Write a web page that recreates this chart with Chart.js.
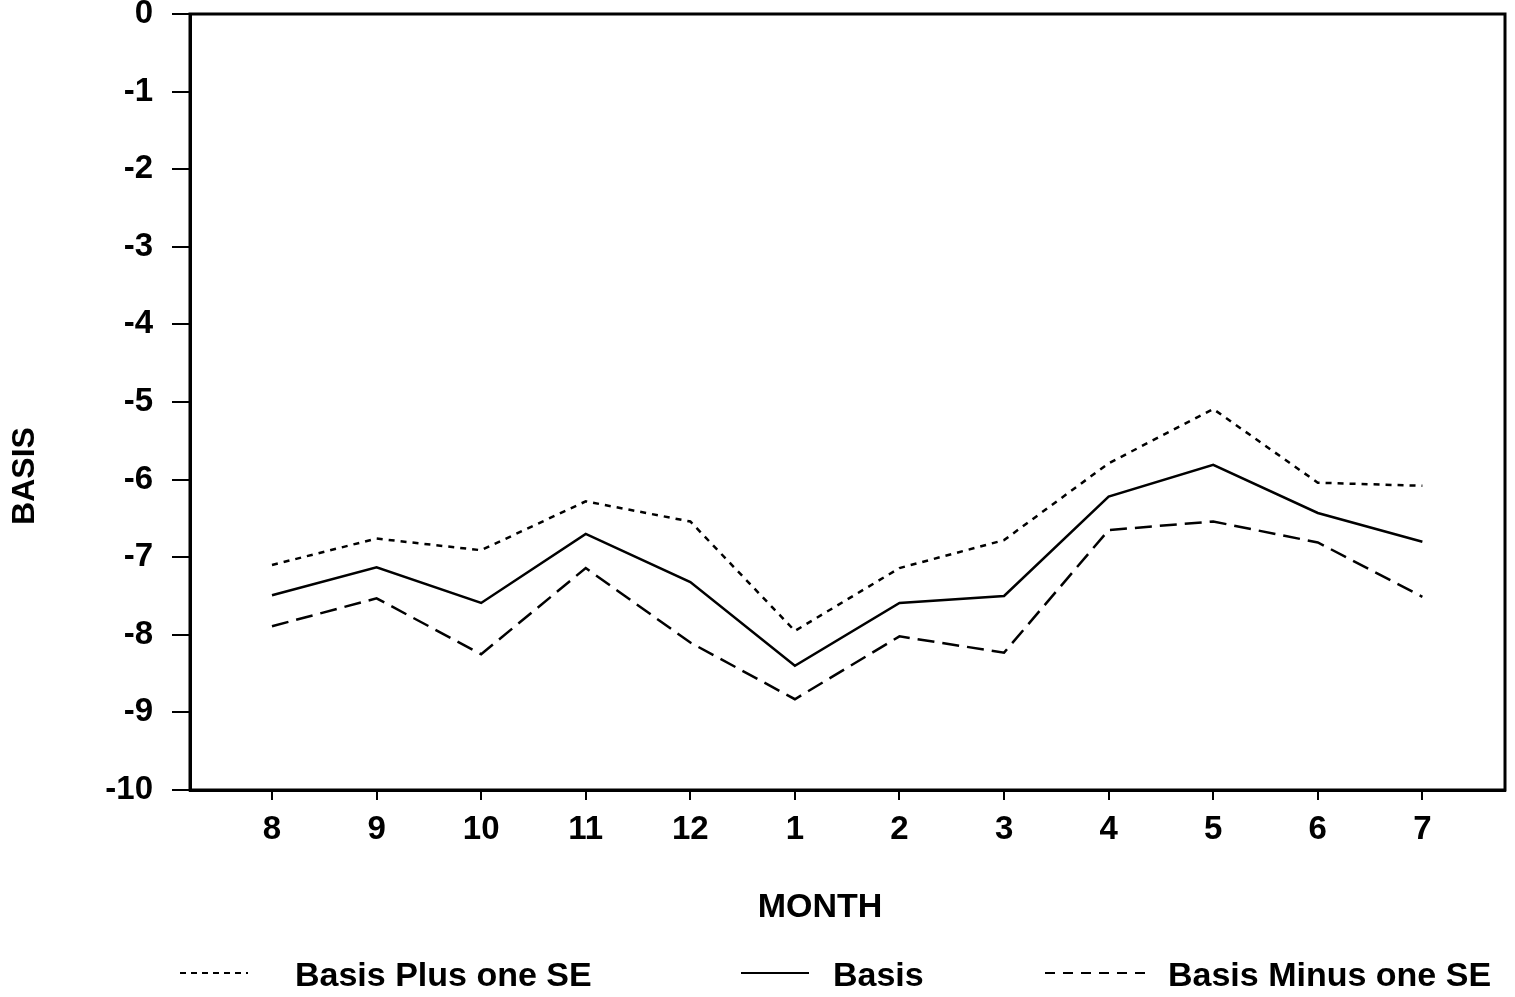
<!DOCTYPE html>
<html>
<head>
<meta charset="utf-8">
<script src="https://cdn.jsdelivr.net/npm/chart.js@4.4.0/dist/chart.umd.min.js"></script>
<style>
  body { margin: 0; background: #fff; }
  canvas { display: block; }
</style>
</head>
<body>
<canvas id="basisChart" width="1515" height="997"></canvas>
<script>
// month order on the x axis (Aug .. Jul)
const months = ['8', '9', '10', '11', '12', '1', '2', '3', '4', '5', '6', '7'];
const basisPlus = [-7.10, -6.76, -6.91, -6.28, -6.54, -7.95, -7.14, -6.78, -5.79, -5.09, -6.04, -6.08];
const basis = [-7.49, -7.13, -7.59, -6.70, -7.32, -8.40, -7.59, -7.50, -6.22, -5.81, -6.43, -6.80];
const basisMinus = [-7.89, -7.53, -8.25, -7.14, -8.10, -8.83, -8.02, -8.23, -6.65, -6.54, -6.81, -7.51];
const yTicks = [0, -1, -2, -3, -4, -5, -6, -7, -8, -9, -10];

const FONT = '"Liberation Sans", Arial, Helvetica, sans-serif';

function pts(arr) {
    return arr.map((v, i) => ({ x: i, y: v }));
}

// frame, axis titles and the legend row under the chart
const extras = {
    id: 'extras',
    afterDraw(chart) {
        const ctx = chart.ctx;
        const a = chart.chartArea;
        ctx.save();
        ctx.strokeStyle = '#000';
        ctx.lineWidth = 3;
        ctx.strokeRect(a.left, a.top, a.right - a.left, a.bottom - a.top);

        ctx.fillStyle = '#000';
        ctx.font = 'bold 34px ' + FONT;
        ctx.textAlign = 'center';
        ctx.textBaseline = 'middle';
        ctx.fillText('MONTH', 820, 908);

        ctx.save();
        ctx.translate(25, 476);
        ctx.rotate(-Math.PI / 2);
        ctx.font = 'bold 32px ' + FONT;
        ctx.fillText('BASIS', 0, 0);
        ctx.restore();

        // legend: [line start, line end, text start]
        const spots = [[180, 248, 295], [741, 809, 833], [1045, 1147, 1168]];
        ctx.font = 'bold 34px ' + FONT;
        ctx.textAlign = 'left';
        ctx.textBaseline = 'alphabetic';
        chart.data.datasets.forEach((ds, i) => {
            const s = spots[i];
            ctx.lineWidth = 2;
            ctx.setLineDash(ds.legendDash);
            ctx.beginPath();
            ctx.moveTo(s[0], 973);
            ctx.lineTo(s[1], 973);
            ctx.stroke();
            ctx.setLineDash([]);
            ctx.fillText(ds.label, s[2], 986);
        });
        ctx.restore();
    }
};

new Chart(document.getElementById('basisChart'), {
    type: 'line',
    data: {
        datasets: [
            { label: 'Basis Plus one SE', data: pts(basisPlus), borderDash: [6, 6], legendDash: [6, 5] },
            { label: 'Basis', data: pts(basis), borderDash: [], legendDash: [] },
            { label: 'Basis Minus one SE', data: pts(basisMinus), borderDash: [17, 8], legendDash: [10, 8] }
        ].map(d => Object.assign(d, {
            borderColor: '#000',
            borderWidth: 2.5,
            pointRadius: 0,
            tension: 0,
            fill: false
        }))
    },
    options: {
        responsive: false,
        animation: false,
        layout: { padding: { top: 14, right: 10, left: 0, bottom: 0 } },
        plugins: { legend: { display: false }, tooltip: { enabled: false } },
        scales: {
            x: {
                type: 'linear',
                min: -0.784,
                max: 11.79,
                afterFit: s => { s.height = 207; s.paddingLeft = 0; s.paddingRight = 0; },
                ticks: {
                    stepSize: 1,
                    includeBounds: false,
                    autoSkip: false,
                    maxRotation: 0,
                    padding: 10,
                    color: '#000',
                    font: { family: FONT, size: 33, weight: 'bold' },
                    callback: v => months[v] ?? ''
                },
                grid: { drawOnChartArea: false, tickLength: 10, color: '#000', lineWidth: 2 },
                border: { display: true, color: '#000', width: 3 }
            },
            y: {
                min: -10,
                max: 0,
                afterFit: s => { s.width = 190; s.paddingTop = 0; s.paddingBottom = 0; },
                afterBuildTicks: s => { s.ticks = yTicks.map(v => ({ value: v })); },
                ticks: {
                    padding: 19,
                    color: '#000',
                    font: { family: FONT, size: 33, weight: 'bold' }
                },
                grid: { drawOnChartArea: false, tickLength: 18, color: '#000', lineWidth: 2 },
                border: { display: true, color: '#000', width: 3 }
            }
        }
    },
    plugins: [extras]
});
</script>
</body>
</html>
